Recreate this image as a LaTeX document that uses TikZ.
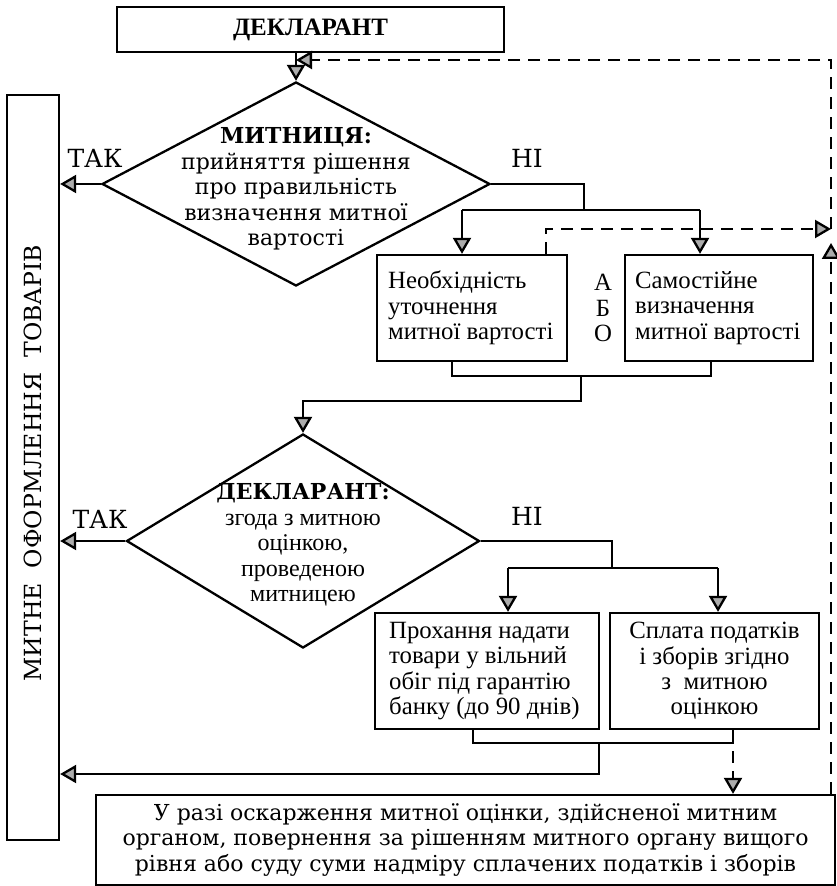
\documentclass[tikz,border=0pt]{standalone}
\usepackage{fontspec}
\setmainfont{DejaVu Serif}
\newfontfamily\narrowfont{Liberation Serif}
\usetikzlibrary{shapes.geometric,arrows.meta}

\begin{document}
\begin{tikzpicture}[x=0.5pt, y=-0.5pt, line width=1.15pt,
    box/.style={rectangle, draw, inner sep=0pt},
    decision/.style={diamond, draw, inner sep=0pt},
    txt/.style={inner sep=0pt, align=center, font=\fontsize{11}{12.8}\selectfont},
    boxtxt/.style={inner sep=0pt, font=\narrowfont\fontsize{12.4}{12.7}\selectfont},
    lbl/.style={inner sep=0pt, font=\fontsize{12.5}{14}\selectfont},
    tip/.style={-{Triangle[length=8pt, width=9pt, fill=gray!65]}},
    back/.style={tip, dash pattern=on 6pt off 4pt}]
\useasboundingbox (0,0) rectangle (836,886);

\node[box, minimum width=193.5pt, minimum height=22.5pt] (D) at (310.5,29.5) {\narrowfont\fontsize{12.5}{14}\selectfont\bfseries ДЕКЛАРАНТ};
\node[box, minimum width=26pt, minimum height=372.5pt] (L) at (33,467.5) {};
\node[rotate=90, inner sep=0pt, font=\fontsize{11.8}{14}\selectfont] (Lt) at (33,463) {МИТНЕ\ \ ОФОРМЛЕННЯ\ \ ТОВАРІВ};

\node[decision, minimum width=194pt, minimum height=102pt] (M) at (296,184) {};
\node[txt] (Mt) at (296,189) {{\bfseries МИТНИЦЯ:}\\прийняття рішення\\про правильність\\визначення митної\\вартості};

\node[box, minimum width=95pt, minimum height=53pt] (N) at (472,308) {};
\node[boxtxt, align=left, anchor=west] (Nt) at (387,308) {Необхідність\\уточнення\\митної вартості};
\node[box, minimum width=94pt, minimum height=53pt] (S) at (719,308) {};
\node[boxtxt, align=left, anchor=west] (St) at (634,308) {Самостійне\\визначення\\митної вартості};
\node[boxtxt, align=center] (A) at (603,308) {А\\Б\\О};

\node[decision, minimum width=176.5pt, minimum height=107pt] (K) at (303,541) {};
\node[txt] (Kt) at (303,545) {{\bfseries ДЕКЛАРАНТ:}\\{\narrowfont\fontsize{12}{12.8}\selectfont згода з митною}\\{\narrowfont\fontsize{12}{12.8}\selectfont оцінкою,}\\{\narrowfont\fontsize{12}{12.8}\selectfont проведеною}\\{\narrowfont\fontsize{12}{12.8}\selectfont митницею}};

\node[box, minimum width=112pt, minimum height=58pt] (P) at (487,671) {};
\node[boxtxt, align=left, anchor=west] (Pt) at (388,671) {Прохання надати\\товари у вільний\\обіг під гарантію\\банку (до 90 днів)};
\node[box, minimum width=104.5pt, minimum height=58pt] (C) at (714.5,671) {};
\node[boxtxt, align=center] (Ct) at (714.5,671) {Сплата податків\\і зборів згідно\\з\ \ митною\\оцінкою};

\node[box, minimum width=369.5pt, minimum height=45pt] (U) at (465.5,840) {};
\node[txt] (Ut) at (465.5,840) {У разі оскарження митної оцінки, здійсненої митним\\органом, повернення за рішенням митного органу вищого\\рівня або суду суми надміру сплачених податків і зборів};

\node[lbl] (T1) at (95,158) {ТАК};
\node[lbl] (H1) at (527,158) {НІ};
\node[lbl] (T2) at (100,519) {ТАК};
\node[lbl] (H2) at (527,516) {НІ};

\coordinate (s1) at (584,210);
\coordinate (n1) at (462,210);
\coordinate (n2) at (700,210);
\coordinate (m1) at (452,376);
\coordinate (m2) at (711,376);
\coordinate (m3) at (581,376);
\coordinate (j1) at (581,401);
\coordinate (s2) at (612,568);
\coordinate (p1) at (508,568);
\coordinate (p2) at (718,568);
\coordinate (k1) at (473,743);
\coordinate (k2) at (733,743);
\coordinate (k3) at (599,743);
\coordinate (k4) at (599,774);
\coordinate (q1) at (546,229);
\coordinate (r0) at (831,60);
\coordinate (r1) at (831,243);

\draw[tip] (M.north |- D.south) -- (M.north);
\draw[tip] (M.west) -- (M.west -| L.east);
\draw (M.east) -| (s1);
\draw (n1) -- (n2);
\draw[tip] (n1) -- (n1 |- N.north);
\draw[tip] (n2) -- (n2 |- S.north);
\draw (m1 |- N.south) -- (m1) -- (m2) -- (m2 |- S.south);
\draw[tip] (m3) -- (j1) -| (K.north);
\draw[tip] (K.west) -- (K.west -| L.east);
\draw (K.east) -| (s2);
\draw (p1) -- (p2);
\draw[tip] (p1) -- (p1 |- P.north);
\draw[tip] (p2) -- (p2 |- C.north);
\draw (k1 |- P.south) -- (k1) -- (k2) -- (k2 |- C.south);
\draw[tip] (k3) -- (k4) -- (k4 -| L.east);
\draw[back] (k2) ++(0,8) -- (k2 |- U.north);
\draw[back] (q1 |- N.north) -- (q1) -- (q1 -| r0);
\draw[back] (r0 |- U.north) -- (r1);
\draw[back] (q1 -| r0) -- (r0) -- (M.north |- r0);
\end{tikzpicture}
\end{document}
